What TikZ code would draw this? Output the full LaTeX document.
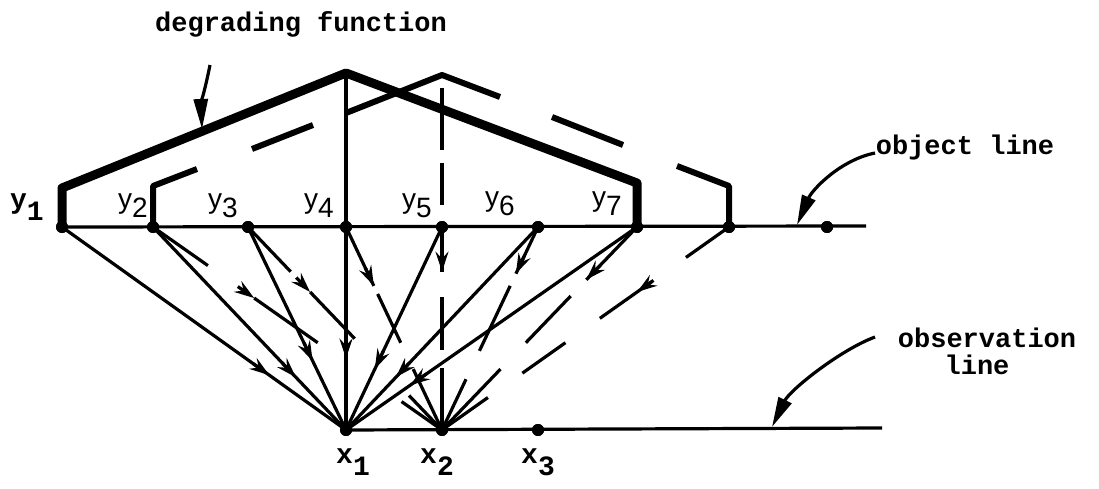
\documentclass[tikz,border=0pt]{standalone}
\usepackage{fontspec}
\newfontfamily\twfont{Liberation Mono}
\newfontfamily\lsfont{Liberation Sans}
\usetikzlibrary{arrows.meta,calc}
\newcommand\dseg[4]{\draw[ray] ($(#1)!#3!(#2)$) -- ($(#1)!#4!(#2)$);}
\newcommand\dtip[3]{\draw[ray,tip] ($ ($(#1)!#3!(#2)$)!20pt!(#1) $) -- ($(#1)!#3!(#2)$);}
\begin{document}
\begin{tikzpicture}[x=1pt,y=-1pt,
  ray/.style={line width=3.2pt},
  tip/.style={-{Stealth[length=20pt,width=13pt,inset=7pt]}},
  fthick/.style={line width=9pt,line join=round},
  fdash/.style={line width=6pt,line join=round},
  dot/.style={circle,fill,inner sep=0pt,minimum size=12pt},
  pointer/.style={line width=3.2pt,-{Triangle[length=30pt,width=14pt]}},
  lab/.style={font=\twfont\bfseries\fontsize{27}{30}\selectfont,inner sep=0pt},
  ylab/.style={font=\twfont\bfseries\fontsize{28}{28}\selectfont,inner sep=0pt},
  slab/.style={font=\lsfont\fontsize{28}{28}\selectfont,inner sep=0pt}]
\useasboundingbox (0,0) rectangle (1099,489);
% points
\foreach \i/\x in {1/62,2/153,3/248,4/346,5/442,6/538,7/637,8/729,9/827}
  \node[dot] (y\i) at (\x,227) {};
\node[dot] (x1) at (346,430) {};
\node[dot] (x2) at (442,430) {};
\node[dot] (x3) at (538,430) {};
\coordinate (oR) at (866,226);
\coordinate (obR) at (882,428);
\coordinate (p1) at (346,73);
\coordinate (p2) at (442,75);
\coordinate (c1) at (62,188);
\coordinate (c2) at (637,183);
% lines
\draw[ray] (y1.center) -- (oR);
\draw[ray] (x1.center) -- (obR);
% solid rays to x1
\foreach \i/\t in {1/0.73,2/0.74,3/0.66,5/0.70,6/0.74,7/0.78}{
  \draw[ray] (y\i.center) -- (x1.center);
  \dtip{y\i.center}{x1.center}{\t}
}
\draw[ray] (p1) -- (x1.center);
\dtip{p1}{x1.center}{0.80}
% dashed rays to x2
\dseg{y2.center}{x2.center}{0}{0.19}
\dseg{y2.center}{x2.center}{0.35}{0.57}
\dtip{y2.center}{x2.center}{0.35}
\dseg{y2.center}{x2.center}{0.86}{1}
\dseg{y3.center}{x2.center}{0}{0.22}
\dseg{y3.center}{x2.center}{0.32}{0.55}
\dtip{y3.center}{x2.center}{0.32}
\dseg{y3.center}{x2.center}{0.83}{1}
\dseg{y4.center}{x2.center}{0}{0.29}
\dtip{y4.center}{x2.center}{0.29}
\dseg{y4.center}{x2.center}{0.33}{0.57}
\dseg{y4.center}{x2.center}{0.70}{1}
\dseg{y5.center}{x2.center}{0}{0.22}
\dtip{y5.center}{x2.center}{0.22}
\dseg{y5.center}{x2.center}{0.345}{0.606}
\dseg{y5.center}{x2.center}{0.695}{1}
\dseg{y6.center}{x2.center}{0}{0.23}
\dtip{y6.center}{x2.center}{0.23}
\dseg{y6.center}{x2.center}{0.29}{0.61}
\dseg{y6.center}{x2.center}{0.75}{1}
\dseg{y7.center}{x2.center}{0}{0.26}
\dtip{y7.center}{x2.center}{0.26}
\dseg{y7.center}{x2.center}{0.34}{0.57}
\dseg{y7.center}{x2.center}{0.70}{1}
\dseg{y8.center}{x2.center}{0}{0.15}
\dseg{y8.center}{x2.center}{0.27}{0.45}
\dtip{y8.center}{x2.center}{0.32}
\dseg{y8.center}{x2.center}{0.57}{0.72}
\dseg{y8.center}{x2.center}{0.84}{1}
% dashed vertical above y5
\draw[ray] (442,88) -- (442,150);
\draw[ray] (442,163) -- (442,205);
% degrading functions
\draw[fdash] (y2.center) -- (153,186) -- (197,169);
\draw[fdash] (252,149) -- (313,125);
\draw[fdash] (346,113) -- (p2) -- (500,97);
\draw[fdash] (552,117) -- (623,145);
\draw[fdash] (677,166) -- (729,186) -- (y8.center);
\draw[fthick] (y1.center) -- (c1) -- (p1) -- (c2) -- (y7.center);
% dots on top
\foreach \i in {1,...,9} \fill (y\i) circle (6pt);
\foreach \i in {1,2,3} \fill (x\i) circle (6pt);
% labels
\node[lab,anchor=base] (tdeg) at (301,32) {degrading function};
\node[lab,anchor=base] (tobj) at (965,155) {object line};
\node[lab,anchor=base] (tobs) at (987,347) {observation};
\node[lab,anchor=base] (tobs2) at (977,374) {line};
\node[ylab,anchor=base east] (ly1) at (44,208) {y\raisebox{-0.45em}{1}};
\node[slab,anchor=base east] (ly2) at (148,208) {y\raisebox{-0.35em}{2}};
\node[slab,anchor=base east] (ly3) at (238,208) {y\raisebox{-0.35em}{3}};
\node[slab,anchor=base east] (ly4) at (334,208) {y\raisebox{-0.35em}{4}};
\node[slab,anchor=base east] (ly5) at (432,208) {y\raisebox{-0.35em}{5}};
\node[slab,anchor=base east] (ly6) at (515,206) {y\raisebox{-0.35em}{6}};
\node[slab,anchor=base east] (ly7) at (622,206) {y\raisebox{-0.35em}{7}};
\node[ylab,anchor=base west] (lx1) at (336,463) {x\raisebox{-0.45em}{1}};
\node[ylab,anchor=base west] (lx2) at (420,463) {x\raisebox{-0.45em}{2}};
\node[ylab,anchor=base west] (lx3) at (521,463) {x\raisebox{-0.45em}{3}};
% pointers
\coordinate (ptd) at (210,65);
\coordinate (ptdE) at (202,129);
\coordinate (pto) at (875,153);
\coordinate (ptoE) at (797,225);
\coordinate (ptb) at (875,337);
\coordinate (ptbE) at (772,427);
\draw[pointer] (ptd) .. controls (206,85) and (201,105) .. (ptdE);
\draw[pointer] (pto) .. controls (840,160) and (812,190) .. (ptoE);
\draw[pointer] (ptb) .. controls (840,350) and (790,390) .. (ptbE);
\end{tikzpicture}
\end{document}
